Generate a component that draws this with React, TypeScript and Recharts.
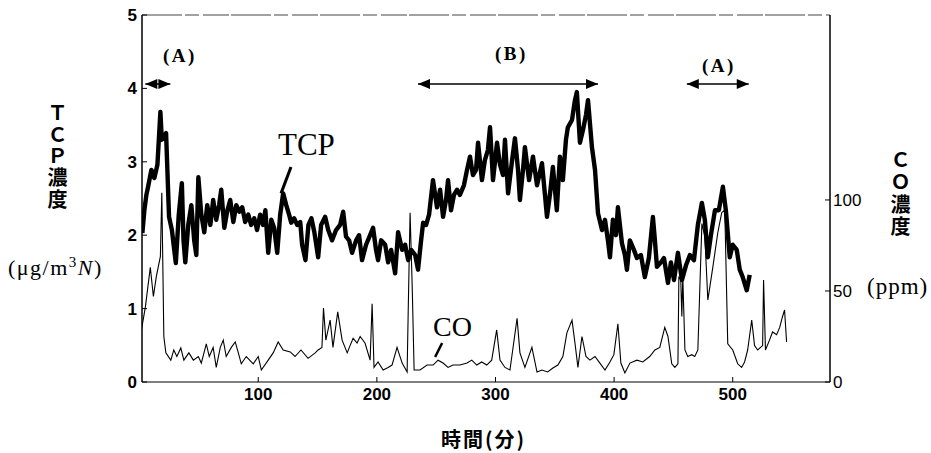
import { Line, LineChart, ReferenceLine, XAxis, YAxis } from "recharts";

// TCP concentration (µg/m3N)
const tcpMinutes = [
  2.3, 4, 5.7, 7.4, 9.9, 12.4, 15, 17.5, 18.7, 20.6,
  22.3, 24.8, 27.2, 30.5, 33, 35.6, 37, 38.5, 41, 43.6,
  46, 47.8, 49.5, 52, 54.5, 57, 59.6, 62, 64.6, 67,
  68.8, 71.4, 74, 76.4, 79, 81.5, 84, 86.5, 89, 91.6,
  94, 96.6, 99, 101.6, 104, 106, 108.4, 111, 113.4, 116,
  118.5, 121, 123.6, 126, 127.8, 130.3, 132.8, 135.4, 137, 139.8,
  142.3, 144.8, 147.3, 150.5, 153, 156.4, 159, 162.2, 165.6, 169,
  171.6, 174, 176.6, 179.1, 182.5, 185, 187.5, 190.9, 194.3, 196.8,
  199.3, 201, 203.6, 207, 209.5, 212, 215.4, 217.9, 221.3, 223.8,
  226.4, 228.9, 232.3, 234.7, 237.3, 239, 241.5, 244, 247.3, 250.7,
  253.3, 255.8, 258.3, 260, 262.5, 265, 267.6, 270, 273.4, 276,
  278.5, 281, 283.6, 285.3, 288.6, 291, 293.6, 295.4, 297.9, 301.3,
  303.8, 306.3, 308, 310.6, 314, 316.4, 319, 320.6, 323.2, 324.8,
  328.3, 331.6, 335, 339.2, 341.7, 343.4, 346, 348.4, 351.7, 354.3,
  356.8, 359.4, 361, 364.5, 367, 368.6, 371.2, 373.7, 376.3, 378,
  381.3, 383.9, 386.4, 389.8, 392.3, 394.8, 396.5, 399, 401.6, 403.2,
  406.6, 409.1, 410.8, 413.3, 416.7, 419.2, 422.6, 425.9, 429.3, 432.7,
  434.4, 436.1, 439.5, 442, 445.4, 447.9, 450.5, 453.8, 457.2, 460.6,
  463.9, 467.3, 470.6, 474, 476.5, 479, 481.6, 485, 488.3, 491.7,
  494.2, 497.5, 500, 503.4, 505.9, 508.4, 511.8, 514.3,
];
const tcpValues = [
  2.03, 2.34, 2.55, 2.68, 2.89, 2.78, 2.96, 3.68, 3.3, 3.34,
  3.39, 2.25, 2.07, 1.62, 2.28, 2.71, 1.93, 1.63, 2.14, 2.41,
  1.93, 1.73, 2.79, 2.28, 2.04, 2.41, 2.14, 2.48, 2.21, 2.41,
  2.62, 2.1, 2.34, 2.48, 2.18, 2.41, 2.32, 2.38, 2.18, 2.28,
  2.14, 2.23, 2.07, 2.28, 2.14, 2.34, 1.76, 2.21, 2.1, 1.76,
  2.28, 2.57, 2.41, 2.28, 2.17, 2.23, 2.14, 2.18, 1.87, 1.66,
  2.14, 2.23, 2.04, 1.7, 2.14, 2.25, 2.07, 1.93, 2.07, 2.14,
  2.32, 1.98, 1.93, 1.76, 1.93, 2.0, 1.66, 1.87, 2.0, 2.1,
  1.8, 1.66, 1.93, 1.87, 1.63, 1.8, 1.48, 2.04, 1.8, 1.87,
  1.66, 1.8, 1.73, 1.53, 1.93, 2.17, 2.14, 2.28, 2.75, 2.38,
  2.62, 2.25, 2.48, 2.75, 2.34, 2.55, 2.62, 2.55, 2.68, 2.89,
  3.07, 2.82, 2.89, 3.26, 2.75, 3.02, 3.16, 3.47, 2.75, 3.26,
  2.96, 2.82, 3.3, 2.57, 3.02, 3.32, 2.89, 2.48, 2.89, 3.2,
  2.75, 3.07, 2.68, 2.98, 2.55, 2.25, 2.57, 2.93, 2.34, 3.07,
  2.75, 3.3, 3.47, 3.57, 3.84, 3.95, 3.26, 3.43, 3.64, 3.84,
  3.2, 2.89, 2.3, 2.07, 2.21, 1.93, 1.7, 2.21, 2.0, 2.38,
  1.89, 1.73, 1.53, 1.93, 1.8, 1.69, 1.73, 1.43, 1.69, 2.25,
  1.93, 1.57, 1.63, 1.69, 1.35, 1.63, 1.39, 1.76, 1.39, 1.59,
  1.73, 1.66, 2.14, 2.44, 2.21, 1.7, 2.0, 2.34, 2.34, 2.66,
  2.34, 1.7, 1.87, 1.8, 1.53, 1.43, 1.25, 1.46,
];

// CO concentration (ppm), thin trace
const coMinutes = [
  1.5, 4.8, 9, 11.6, 14.1, 17.5, 18.7, 20.4, 22.1, 26.3,
  28.8, 31.4, 34.7, 37.3, 41.5, 45.3, 49.5, 52, 56.2, 58.7,
  62, 64.6, 68, 70.5, 73, 77.3, 80.6, 83.2, 85.7, 89.9,
  95.8, 100, 102.6, 108.4, 112.6, 116.8, 121, 127, 131, 136,
  142, 148, 150.5, 153.7, 155, 157, 160.6, 163, 167, 170.7,
  175, 177.4, 180, 183.3, 185.9, 190, 194.3, 196, 197.6, 201,
  205.3, 209.5, 212.8, 217, 221.3, 225.5, 226.4, 228, 229.8, 231.4,
  236.4, 242.3, 247.4, 251.6, 255.8, 260, 264.2, 270, 276, 280,
  284.2, 288.4, 292.6, 296.8, 301, 303.8, 308, 312.2, 318.2, 320.6,
  324.8, 330.7, 335, 339.2, 344, 348.4, 352.6, 356.8, 360.2, 364.5,
  367, 369.5, 372.9, 376.3, 379.6, 383.9, 388, 392.3, 396.5, 399.8,
  403.2, 405.7, 409.1, 413.3, 419.2, 424.2, 430, 434.4, 438.5, 442.7,
  445.4, 448.6, 451.2, 453.8, 454.6, 456.2, 457.1, 457.9, 459.7, 462.1,
  465.5, 468, 470.6, 474, 476.5, 479, 483.2, 487.4, 490.7, 493.3,
  495.8, 500, 504.2, 507.5, 510, 512.6, 516, 518.4, 521, 525.2,
  526, 527.6, 531, 533.6, 537, 539.6, 542, 543.7, 545.4,
];
const coValues = [
  28.6, 41, 63, 47, 58, 69, 104, 25, 16, 12,
  17.6, 14, 18.7, 12, 16, 12, 14, 10.4, 21, 14,
  19, 8, 19, 23, 14, 19, 22, 16, 10, 14,
  10, 14, 6.6, 12, 16, 22, 17.6, 16.5, 14, 17.6,
  13, 16, 17.6, 19, 40.6, 23, 34, 19, 38.5, 23,
  16, 20, 24, 21.4, 25, 21.4, 12, 43, 8, 11,
  6.6, 8, 9.3, 19, 10.4, 5.5, 38, 93, 52, 6.6,
  6.6, 9.3, 9.3, 12, 10.4, 8, 9.3, 9.3, 10.4, 12,
  9.3, 11, 9.3, 12, 28.6, 12, 8, 6.6, 35, 16,
  8, 19, 5.5, 6.6, 5.5, 7.7, 9.3, 14, 27, 34,
  21.4, 8, 25, 14, 12, 14, 10.4, 6.6, 11, 15,
  32, 10.4, 5, 10.4, 12, 11, 14, 17.6, 19, 30,
  25, 10, 8, 10, 58, 56, 36, 58, 17.6, 14,
  15, 14, 17.6, 87, 80, 45, 63, 82, 93, 94.5,
  21, 17.6, 10, 8, 11, 17.6, 34, 20, 17.6, 20,
  56, 17.6, 23, 27.5, 26, 30, 36, 39.6, 22,
];

const timeTicks = [100, 200, 300, 400, 500];
const tcpTicks = [0, 1, 2, 3, 4, 5];
const coTicks = [0, 50, 100];

// operating periods marked above the traces: [start, end] in minutes
const periodA1 = [4.8, 25.9];
const periodB = [234.7, 386.4];
const periodA2 = [461.3, 513.5];

const tcpData = tcpMinutes.map((t, i) => ({ t, v: tcpValues[i] }));
const coData = coMinutes.map((t, i) => ({ t, v: coValues[i] }));

const sans = "'Liberation Sans', Arial, sans-serif";
const serif = "'Liberation Serif', 'Times New Roman', serif";
const cjk = "'Noto Sans CJK JP', sans-serif";

const ArrowShape = (p: any) => {
  const { x1, y1, x2, y2 } = p;
  const h = 12;
  const w = 5;
  return (
    <g>
      <line x1={x1} y1={y1} x2={x2} y2={y2} stroke="#000" strokeWidth={1.5} />
      <polygon points={`${x1},${y1} ${x1 + h},${y1 - w} ${x1 + h},${y1 + w}`} fill="#000" />
      <polygon points={`${x2},${y2} ${x2 - h},${y2 - w} ${x2 - h},${y2 + w}`} fill="#000" />
    </g>
  );
};

const arrowY = 4.06;

const periodLabel = { position: "absolute" as const, fontFamily: serif, fontSize: 19, fontWeight: 700, letterSpacing: 2.5 };

export default function App() {
  return (
    <div style={{ position: "absolute", left: 0, top: 0, width: 931, height: 453, background: "#fff" }}>
      <LineChart width={931} height={453} margin={{ top: 15, right: 0, bottom: 41, left: 0 }}>
        <XAxis
          type="number"
          dataKey="t"
          domain={[2, 582]}
          ticks={timeTicks}
          allowDataOverflow
          tickSize={-5}
          tickMargin={11}
          height={30}
          axisLine={{ stroke: "#555", strokeWidth: 1.5 }}
          tickLine={{ stroke: "#000" }}
          tick={{ fill: "#000", fontSize: 17, fontWeight: 700, fontFamily: sans }}
        />
        <YAxis
          yAxisId="tcp"
          domain={[0, 5]}
          ticks={tcpTicks}
          width={142}
          tickSize={-5}
          tickMargin={10}
          axisLine={{ stroke: "#000", strokeWidth: 1.5 }}
          tickLine={{ stroke: "#000" }}
          tick={{ fill: "#000", fontSize: 17, fontWeight: 700, fontFamily: sans }}
        />
        <YAxis
          yAxisId="co"
          orientation="right"
          domain={[0, 201.6]}
          ticks={coTicks}
          width={101}
          tickSize={-5}
          tickMargin={8}
          axisLine={{ stroke: "#000", strokeWidth: 1.5 }}
          tickLine={{ stroke: "#000" }}
          tick={{ fill: "#000", fontSize: 17, fontFamily: sans }}
        />
        <ReferenceLine yAxisId="tcp" y={5} stroke="#444" strokeWidth={1.2} strokeDasharray="40 3 14 4 26 2" />
        <Line
          data={coData}
          dataKey="v"
          yAxisId="co"
          type="linear"
          stroke="#000"
          strokeWidth={1.1}
          dot={false}
          activeDot={false}
          isAnimationActive={false}
        />
        <Line
          data={tcpData}
          dataKey="v"
          yAxisId="tcp"
          type="linear"
          stroke="#000"
          strokeWidth={4.4}
          strokeLinejoin="round"
          dot={false}
          activeDot={false}
          isAnimationActive={false}
        />
        <ReferenceLine
          yAxisId="tcp"
          segment={[{ x: periodA1[0], y: arrowY }, { x: periodA1[1], y: arrowY }]}
          shape={ArrowShape}
        />
        <ReferenceLine
          yAxisId="tcp"
          segment={[{ x: periodB[0], y: arrowY }, { x: periodB[1], y: arrowY }]}
          shape={ArrowShape}
        />
        <ReferenceLine
          yAxisId="tcp"
          segment={[{ x: periodA2[0], y: arrowY }, { x: periodA2[1], y: arrowY }]}
          shape={ArrowShape}
        />
        <ReferenceLine
          yAxisId="tcp"
          segment={[{ x: 127.6, y: 2.93 }, { x: 119.2, y: 2.57 }]}
          stroke="#000"
          strokeWidth={3}
        />
        <ReferenceLine
          yAxisId="co"
          segment={[{ x: 255, y: 21.4 }, { x: 249.1, y: 13.7 }]}
          stroke="#000"
          strokeWidth={2.5}
        />
      </LineChart>

      <div style={{ ...periodLabel, left: 163, top: 45 }}>(A)</div>
      <div style={{ ...periodLabel, left: 495, top: 43 }}>(B)</div>
      <div style={{ ...periodLabel, left: 702, top: 55 }}>(A)</div>
      <div style={{ position: "absolute", left: 278, top: 127, fontFamily: serif, fontSize: 31 }}>TCP</div>
      <div style={{ position: "absolute", left: 433, top: 311, fontFamily: serif, fontSize: 28 }}>CO</div>

      <div
        style={{
          position: "absolute",
          left: 47,
          top: 103,
          writingMode: "vertical-rl",
          fontFamily: cjk,
          fontSize: 20,
          fontWeight: 700,
          lineHeight: 1,
          letterSpacing: 1.5,
        }}
      >
        ＴＣＰ濃度
      </div>
      <div
        style={{
          position: "absolute",
          left: 8,
          top: 254,
          fontFamily: serif,
          fontSize: 22,
          letterSpacing: 1.5,
          whiteSpace: "nowrap",
        }}
      >
        (μg/m<sup style={{ fontSize: 15 }}>3</sup>
        <i>N</i>)
      </div>
      <div
        style={{
          position: "absolute",
          left: 890,
          top: 150,
          writingMode: "vertical-rl",
          fontFamily: cjk,
          fontSize: 20,
          fontWeight: 700,
          lineHeight: 1,
          letterSpacing: 2,
        }}
      >
        ＣＯ濃度
      </div>
      <div style={{ position: "absolute", left: 867, top: 274, fontFamily: serif, fontSize: 23, letterSpacing: 1 }}>
        (ppm)
      </div>
      <div
        style={{ position: "absolute", left: 441, top: 424, fontFamily: cjk, fontSize: 20, fontWeight: 700, letterSpacing: 2 }}
      >
        時間(分)
      </div>
    </div>
  );
}
